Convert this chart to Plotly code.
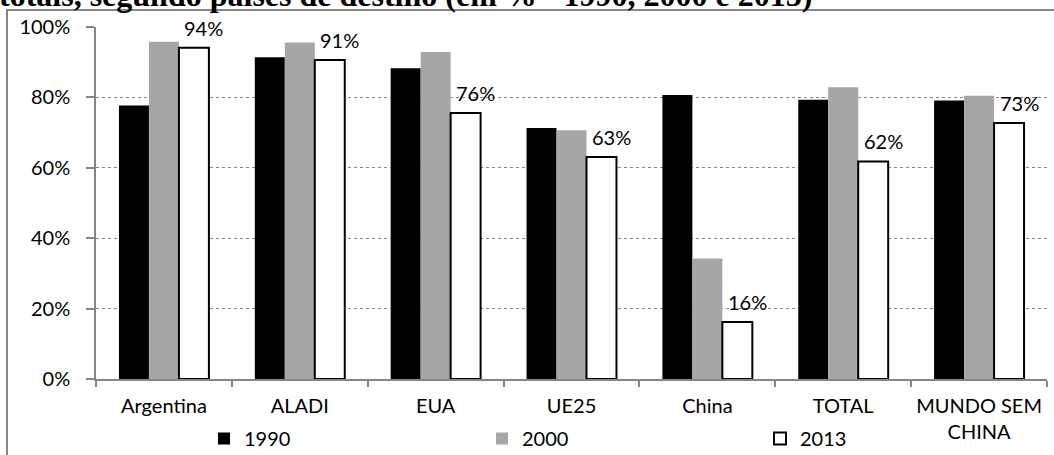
import plotly.graph_objects as go

categories = ["Argentina", "ALADI", "EUA", "UE25", "China", "TOTAL", "MUNDO SEM<br>CHINA"]
v1990 = [0.777, 0.914, 0.883, 0.713, 0.807, 0.793, 0.791]
v2000 = [0.958, 0.956, 0.929, 0.707, 0.342, 0.829, 0.805]
v2013 = [0.941, 0.906, 0.756, 0.631, 0.162, 0.618, 0.727]
series_names = ["1990", "2000", "2013"]
title_text = "totais, segundo países de destino (em % - 1990, 2000 e 2013)"

FONT = "Lato"
W, H = 1054, 455
ML, MR, MT, MB = 96, 7, 27, 76
PW = W - ML - MR
PH = H - MT - MB

def px_x(p):
    return (p - ML) / PW

def px_y(p):
    return (H - MB - p) / PH

fig = go.Figure()
fig.add_trace(go.Bar(x=categories, y=v1990, name=series_names[0],
                     marker=dict(color="#000000", line=dict(width=0))))
fig.add_trace(go.Bar(x=categories, y=v2000, name=series_names[1],
                     marker=dict(color="#A6A6A6", line=dict(width=0))))
fig.add_trace(go.Bar(x=categories, y=v2013, name=series_names[2],
                     marker=dict(color="#FFFFFF", line=dict(color="#000000", width=2))))

annotations = []
for c, v in zip(categories, v2013):
    annotations.append(dict(x=c, y=v, xref="x", yref="y", text=f"{round(v*100)}%",
                            showarrow=False, xshift=40, yshift=20, yanchor="middle",
                            font=dict(family=FONT, size=20, color="#000000")))

annotations.append(dict(x=px_x(-3), y=px_y(15), xref="paper", yref="paper",
                        xanchor="left", yanchor="bottom", showarrow=False,
                        text=f"<b>{title_text}</b>",
                        font=dict(family="Liberation Serif", size=32, color="#000000")))

fig.update_layout(
    width=W, height=H, autosize=False,
    margin=dict(l=ML, r=MR, t=MT, b=MB, autoexpand=False),
    paper_bgcolor="white", plot_bgcolor="white",
    font=dict(family=FONT, size=20, color="#000000"),
    barmode="group", bargap=0.338, bargroupgap=0,
    showlegend=True,
    legend=dict(orientation="h", x=px_x(204), y=px_y(419), xanchor="left", yanchor="top",
                entrywidth=233, entrywidthmode="pixels", traceorder="normal",
                font=dict(family=FONT, size=20), bgcolor="rgba(0,0,0,0)"),
    annotations=annotations,
    shapes=[dict(type="rect", xref="paper", yref="paper",
                 x0=px_x(7), x1=px_x(1060), y0=px_y(470), y1=px_y(10),
                 line=dict(color="#868686", width=2), fillcolor="rgba(0,0,0,0)", layer="below")],
)

fig.update_yaxes(range=[0, 1], dtick=0.2, tickformat=".0%", automargin=False,
                 showline=True, linecolor="#868686", linewidth=1.5,
                 ticks="outside", ticklen=8, tickcolor="#868686", tickwidth=1.5,
                 showgrid=True, gridcolor="#868686", gridwidth=1, griddash="dot",
                 zeroline=False, ticklabelstandoff=12)
fig.update_xaxes(showline=True, linecolor="#868686", linewidth=1.5, automargin=False,
                 ticks="outside", ticklen=6, tickcolor="#868686", tickwidth=1.5,
                 tickangle=0, tickson="boundaries", showgrid=False, ticklabelstandoff=8)

fig.write_html("out.html")
